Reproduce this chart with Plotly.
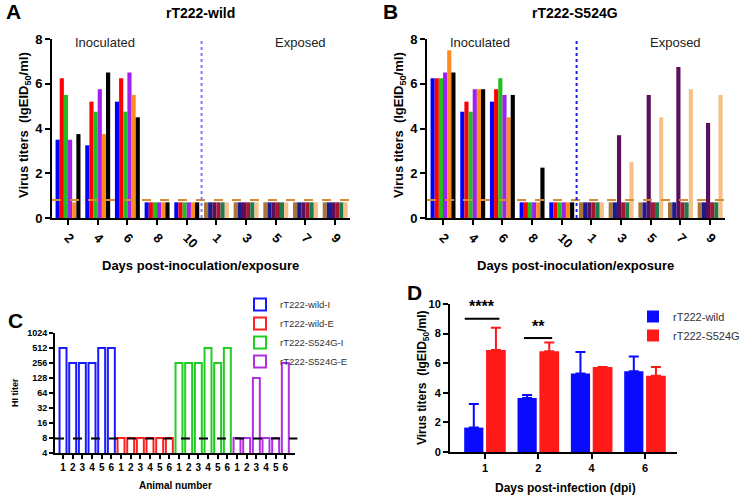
import plotly.graph_objects as go

# ---------------- data ----------------
days_ab = ["2", "4", "6", "8", "10", "1", "3", "5", "7", "9"]

wild_b1 = [3.5, 3.25, 5.2, 0.7, 0.7, 0.7, 0.7, 0.7, 0.7, 0.7]
wild_b2 = [6.25, 5.2, 6.25, 0.7, 0.7, 0.7, 0.7, 0.7, 0.7, 0.7]
wild_b3 = [5.5, 4.75, 4.75, 0.7, 0.7, 0.7, 0.7, 0.7, 0.7, 0.7]
wild_b4 = [3.5, 5.75, 6.5, 0.7, 0.7, 0.7, 0.7, 0.7, 0.7, 0.7]
wild_b5 = [0.7, 3.75, 5.5, 0.7, 0.7, 0.7, 0.7, 0.7, 0.7, 0.7]
wild_b6 = [3.75, 6.5, 4.5, 0.7, 0.7, 0.7, 0.7, 0.7, 0.7, 0.7]

mut_b1 = [6.25, 4.75, 5.2, 0.7, 0.7, 0.7, 0.7, 0.7, 0.7, 0.7]
mut_b2 = [6.25, 5.2, 5.75, 0.7, 0.7, 0.7, 0.7, 0.7, 0.7, 0.7]
mut_b3 = [6.25, 4.75, 6.25, 0.7, 0.7, 0.7, 3.7, 5.5, 6.75, 4.25]
mut_b4 = [6.5, 5.75, 5.5, 0.7, 0.7, 0.7, 0.7, 0.7, 0.7, 0.7]
mut_b5 = [7.5, 5.75, 4.5, 0.7, 0.7, 0.7, 0.7, 0.7, 0.7, 0.7]
mut_b6 = [6.5, 5.75, 5.5, 2.25, 0.7, 0.7, 2.5, 4.5, 5.75, 5.5]

lod = 0.8

animal_labels = ["1", "2", "3", "4", "5", "6"]
hi_wild_i = [512, 256, 256, 256, 512, 512]
hi_wild_e = [8, 8, 8, 8, 8, 8]
hi_mut_i = [256, 256, 256, 512, 256, 512]
hi_mut_e = [8, 8, 128, 8, 8, 256]
hi_ticks = [4, 8, 16, 32, 64, 128, 256, 512, 1024]
hi_cut = 7.8

dpi = ["1", "2", "4", "6"]
d_wild = [1.65, 3.65, 5.3, 5.45]
d_wild_err = [1.6, 0.2, 1.45, 1.0]
d_mut = [6.9, 6.8, 5.75, 5.15]
d_mut_err = [1.5, 0.6, 0.0, 0.6]

# ---------------- styles ----------------
FONT = "Liberation Sans, Arial, sans-serif"
inoc_colors = ["#0000ff", "#ff0000", "#1fbf1f", "#a020f0", "#ff8a1f", "#000000"]
expo_colors = ["#a8763a", "#1b1b8f", "#5c105c", "#a3182f", "#1f7a4f", "#f5c08a"]
hi_colors = ["#1a1aff", "#ff2020", "#22cc22", "#b030e0"]

W, H = 750, 498
def fx(px): return px / W
def fy(px): return 1 - px / H

fig = go.Figure()

# ---- Panels A and B ----
bw = 0.14
for panel, birds in ((1, [wild_b1, wild_b2, wild_b3, wild_b4, wild_b5, wild_b6]),
                     (2, [mut_b1, mut_b2, mut_b3, mut_b4, mut_b5, mut_b6])):
    xa = "x" if panel == 1 else "x2"
    ya = "y" if panel == 1 else "y2"
    for i, vals in enumerate(birds):
        cols = [inoc_colors[i]] * 5 + [expo_colors[i]] * 5
        fig.add_trace(go.Bar(x=days_ab, y=vals, width=bw, offset=-3 * bw + i * bw,
                             marker=dict(color=cols, line=dict(width=0)),
                             xaxis=xa, yaxis=ya, showlegend=False))

# ---- Panel C ----
groups = [("rT222-wild-I", hi_wild_i), ("rT222-wild-E", hi_wild_e),
          ("rT222-S524G-I", hi_mut_i), ("rT222-S524G-E", hi_mut_e)]
for g, (name, vals) in enumerate(groups):
    xs = list(range(g * 6, g * 6 + 6))
    fig.add_trace(go.Bar(x=xs, y=vals, name=name, width=0.72,
                         marker=dict(color="white", line=dict(color=hi_colors[g], width=2)),
                         xaxis="x3", yaxis="y3", legend="legend"))

# ---- Panel D ----
fig.add_trace(go.Bar(x=dpi, y=d_wild, name="rT222-wild", width=0.36, offset=-0.39,
                     marker=dict(color="#0a0aff", line=dict(width=0)),
                     error_y=dict(type="data", array=d_wild_err, arrayminus=[0] * 4, symmetric=False,
                                  color="#0a0aff", thickness=2, width=5),
                     xaxis="x4", yaxis="y4", legend="legend2"))
fig.add_trace(go.Bar(x=dpi, y=d_mut, name="rT222-S524G", width=0.37, offset=0.02,
                     marker=dict(color="#ff1a1a", line=dict(width=0)),
                     error_y=dict(type="data", array=d_mut_err, arrayminus=[0] * 4, symmetric=False,
                                  color="#ff1a1a", thickness=2, width=5),
                     xaxis="x4", yaxis="y4", legend="legend2"))

axis_common = dict(showline=True, linecolor="black", linewidth=2, ticks="outside",
                   tickcolor="black", tickwidth=2, showgrid=False, zeroline=False,
                   automargin=False)

shapes = []
annotations = []

# A/B axes
for panel, (x0, x1) in ((1, (52, 350)), (2, (427, 725))):
    sfx = "" if panel == 1 else "2"
    fig.layout["xaxis" + sfx] = dict(domain=[fx(x0), fx(x1)], type="category", range=[-0.54, 9.5],
                                     tickangle=45, ticklen=5,
                                     tickfont=dict(size=13, weight="bold", color="black", family=FONT),
                                     anchor="y" + sfx, **axis_common)
    fig.layout["yaxis" + sfx] = dict(domain=[fy(218), fy(39)], range=[0, 8], tickvals=[0, 2, 4, 6, 8],
                                     ticklen=5, tickfont=dict(size=13, weight="bold", color="black", family=FONT),
                                     anchor="x" + sfx, **axis_common)
    xr = "x" + sfx + " domain"
    shapes.append(dict(type="line", xref=xr, yref="y" + sfx, x0=0, x1=1, y0=lod, y1=lod,
                       line=dict(color="#d98a35", width=2, dash="dash")))
    shapes.append(dict(type="line", xref="x" + sfx, yref="y" + sfx, x0=4.5, x1=4.5, y0=0, y1=8,
                       line=dict(color="#7b7bff" if panel == 1 else "#1f1fe0", width=2, dash="dot")))

# C axes
fig.layout.xaxis3 = dict(domain=[fx(55), fx(295)], range=[-0.83, 24.0],
                         tickvals=list(range(24)), ticktext=animal_labels * 4, ticklen=4,
                         tickfont=dict(size=10, weight="bold", color="black", family=FONT),
                         anchor="y3", **axis_common)
fig.layout.yaxis3 = dict(domain=[fy(453), fy(333)], type="log", range=[0.60206, 3.0103],
                         tickvals=hi_ticks, ticktext=[str(t) for t in hi_ticks], ticklen=4,
                         tickfont=dict(size=9, weight="bold", color="black", family=FONT),
                         anchor="x3", **axis_common)
shapes.append(dict(type="line", xref="x3 domain", yref="y3", x0=0, x1=1.01, y0=hi_cut, y1=hi_cut,
                   line=dict(color="black", width=2, dash="dash")))

# D axes
fig.layout.xaxis4 = dict(domain=[fx(450), fx(677)], type="category", range=[-0.656, 3.6], ticklen=5,
                         tickfont=dict(size=11, weight="bold", color="black", family=FONT),
                         anchor="y4", **axis_common)
fig.layout.yaxis4 = dict(domain=[fy(452), fy(304)], range=[0, 10], tickvals=[0, 2, 4, 6, 8, 10], ticklen=5,
                         tickfont=dict(size=11, weight="bold", color="black", family=FONT),
                         anchor="x4", **axis_common)
shapes.append(dict(type="line", xref="x4", yref="y4", x0=-0.38, x1=0.27, y0=9.0, y1=9.0,
                   line=dict(color="black", width=2)))
shapes.append(dict(type="line", xref="x4", yref="y4", x0=0.73, x1=1.26, y0=7.7, y1=7.7,
                   line=dict(color="black", width=2)))
annotations.append(dict(x=-0.05, y=9.1, xref="x4", yref="y4", text="<b>****</b>", showarrow=False,
                        yanchor="bottom", font=dict(size=16, color="black", family=FONT)))
annotations.append(dict(x=1.0, y=7.8, xref="x4", yref="y4", text="<b>**</b>", showarrow=False,
                        yanchor="bottom", font=dict(size=16, color="black", family=FONT)))

def ann(x, y, text, size, bold=True, angle=0, color="black"):
    t = f"<b>{text}</b>" if bold else text
    annotations.append(dict(x=fx(x), y=fy(y), xref="paper", yref="paper", text=t, showarrow=False,
                            textangle=angle, xanchor="center", yanchor="middle",
                            font=dict(size=size, color=color, family=FONT)))

ytitle = "Virus titers  (lgEID<sub>50</sub>/ml)"
ann(13, 12, "A", 21)
ann(390, 12, "B", 21)
ann(200, 13, "rT222-wild", 14)
ann(575, 13, "rT222-S524G", 14)
ann(105, 43, "Inoculated", 13, bold=False, color="#222")
ann(300, 43, "Exposed", 13, bold=False, color="#222")
ann(480, 43, "Inoculated", 13, bold=False, color="#222")
ann(675, 43, "Exposed", 13, bold=False, color="#222")
ann(24, 125, ytitle, 13, angle=-90)
ann(399, 125, ytitle, 13, angle=-90)
ann(200, 265, "Days post-inoculation/exposure", 13)
ann(575, 265, "Days post-inoculation/exposure", 13)
ann(15, 320, "C", 21)
ann(15, 393, "HI titer", 9, angle=-90)
ann(175, 485, "Animal number", 10)
ann(414, 292, "D", 21)
ann(423, 378, ytitle, 12, angle=-90)
ann(565, 488, "Days post-infection (dpi)", 12)

fig.update_layout(
    width=W, height=H, margin=dict(l=0, r=0, t=0, b=0),
    paper_bgcolor="white", plot_bgcolor="white", barmode="overlay",
    font=dict(family=FONT, color="black"),
    shapes=shapes, annotations=annotations,
    legend=dict(x=fx(240), y=fy(290), xanchor="left", yanchor="top", tracegroupgap=0,
                font=dict(size=9.5, color="#333", family=FONT), bgcolor="rgba(0,0,0,0)"),
    legend2=dict(x=fx(633), y=fy(302), xanchor="left", yanchor="top", tracegroupgap=0,
                 font=dict(size=11, color="#333", family=FONT), bgcolor="rgba(0,0,0,0)"),
)

fig.write_html("out.html", config={"displayModeBar": False},
               post_script="document.body.style.margin='0px';document.body.style.overflow='hidden';")
